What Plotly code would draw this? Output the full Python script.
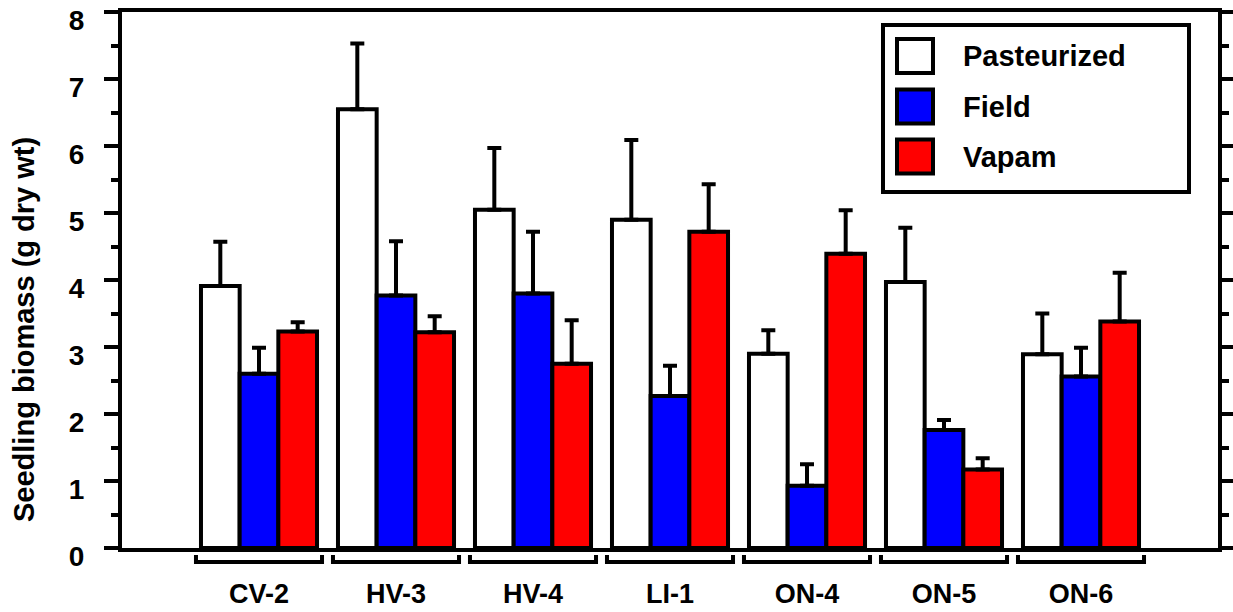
import plotly.graph_objects as go

categories = ["CV-2", "HV-3", "HV-4", "LI-1", "ON-4", "ON-5", "ON-6"]
series_names = ["Pasteurized", "Field", "Vapam"]
series_colors = ["#ffffff", "#0000ff", "#ff0000"]

pasteurized = [3.91, 6.55, 5.05, 4.90, 2.90, 3.97, 2.89]
pasteurized_err = [0.66, 0.98, 0.92, 1.19, 0.35, 0.81, 0.61]
field = [2.60, 3.77, 3.80, 2.27, 0.93, 1.76, 2.56]
field_err = [0.39, 0.81, 0.92, 0.45, 0.32, 0.15, 0.43]
vapam = [3.23, 3.22, 2.75, 4.72, 4.39, 1.17, 3.38]
vapam_err = [0.14, 0.24, 0.65, 0.71, 0.65, 0.17, 0.73]

y_ticks = [0, 1, 2, 3, 4, 5, 6, 7, 8]
y_title = "Seedling biomass (g dry wt)"

values = [pasteurized, field, vapam]
errors = [pasteurized_err, field_err, vapam_err]
xpos = list(range(len(categories)))

W, H = 1233, 612
L, R, T, B = 122, 15, 12, 64
PW, PH = W - L - R, H - T - B
FONT = "Arial, Liberation Sans, sans-serif"


def px(xp):
    return (xp - L) / PW


def py(yp):
    return (H - B - yp) / PH


fig = go.Figure()
for name, col, v, e in zip(series_names, series_colors, values, errors):
    fig.add_trace(go.Bar(
        x=xpos, y=v, name=name,
        marker=dict(color=col, line=dict(color="black", width=4)),
        error_y=dict(type="data", symmetric=False, array=e,
                     arrayminus=[0] * len(e), color="black",
                     thickness=4, width=7),
    ))

shapes = []
# category brackets below the axis
for i in xpos:
    x0, x1 = i - 0.46, i + 0.46
    yb, yt = py(562), py(555)
    shapes.append(dict(type="path", xref="x", yref="paper",
                       path=f"M {x0},{yt} L {x0},{yb} L {x1},{yb} L {x1},{yt}",
                       line=dict(color="black", width=4)))

# legend
shapes.append(dict(type="rect", xref="paper", yref="paper",
                   x0=px(883), x1=px(1189), y0=py(192), y1=py(25),
                   line=dict(color="black", width=4), fillcolor="white",
                   layer="above"))
annotations = []
row_y = [56, 106.5, 156.5]
for name, col, ry in zip(series_names, series_colors, row_y):
    shapes.append(dict(type="rect", xref="paper", yref="paper",
                       x0=px(897), x1=px(933), y0=py(ry + 17), y1=py(ry - 17),
                       line=dict(color="black", width=4), fillcolor=col,
                       layer="above"))
    annotations.append(dict(text=f"<b>{name}</b>", xref="paper", yref="paper",
                            x=px(961), y=py(ry), xanchor="left", yanchor="middle",
                            showarrow=False,
                            font=dict(family=FONT, size=29, color="black")))

# y-axis title
annotations.append(dict(text=f"<b>{y_title}</b>", xref="paper", yref="paper",
                        x=px(24), y=py(330), xanchor="center", yanchor="middle",
                        textangle=-90, showarrow=False,
                        font=dict(family=FONT, size=29, color="black")))

fig.update_layout(
    width=W, height=H,
    margin=dict(l=L, r=R, t=T, b=B, pad=0, autoexpand=False),
    paper_bgcolor="white", plot_bgcolor="white",
    barmode="group", bargap=0.153, bargroupgap=0,
    showlegend=False,
    shapes=shapes, annotations=annotations,
    font=dict(family=FONT, color="black"),
)
fig.update_xaxes(
    range=[-1, 7], tickvals=xpos, ticktext=[f"<b>{c}</b>" for c in categories],
    ticks="", showline=True, linecolor="black", linewidth=4, mirror=True,
    showgrid=False, zeroline=False, ticklabelstandoff=19, automargin=False,
    ticklabeloverflow="allow",
    tickfont=dict(family=FONT, size=27, color="black"),
)
fig.update_yaxes(
    range=[0, 8], tickvals=y_ticks, ticktext=[f"<b>{t}</b>" for t in y_ticks],
    ticks="outside", ticklen=14, tickwidth=4, tickcolor="black",
    minor=dict(dtick=0.5, ticks="outside", ticklen=7, tickwidth=4, tickcolor="black"),
    showline=True, linecolor="black", linewidth=4, mirror="ticks",
    showgrid=False, zeroline=False, ticklabelstandoff=14, ticklabelshift=8,
    automargin=False, ticklabeloverflow="allow",
    tickfont=dict(family=FONT, size=28, color="black"),
)

fig.write_html("out.html")
